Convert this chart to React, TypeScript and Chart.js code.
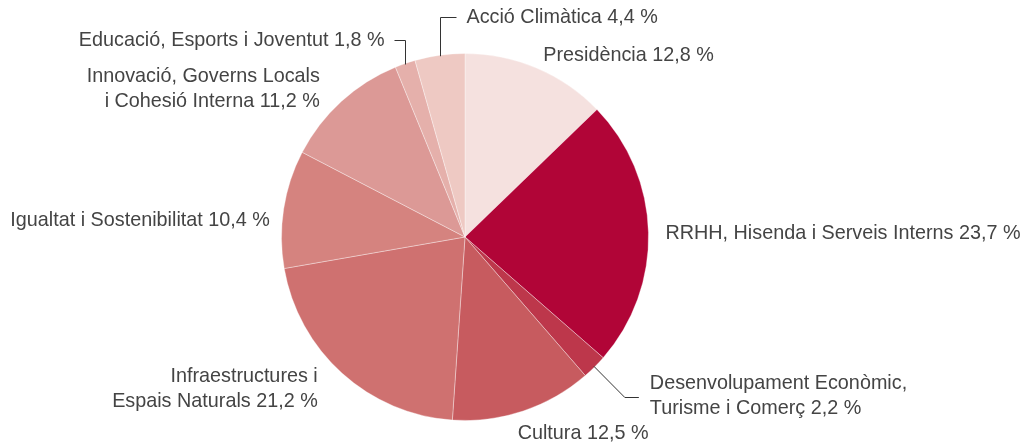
import React, { useEffect, useRef } from "react";
import { Chart, registerables } from "chart.js";

Chart.register(...registerables);

const categories: string[][] = [
  ["Presidència 12,8 %"],
  ["RRHH, Hisenda i Serveis Interns 23,7 %"],
  ["Desenvolupament Econòmic,", "Turisme i Comerç 2,2 %"],
  ["Cultura 12,5 %"],
  ["Infraestructures i", "Espais Naturals 21,2 %"],
  ["Igualtat i Sostenibilitat 10,4 %"],
  ["Innovació, Governs Locals", "i Cohesió Interna 11,2 %"],
  ["Educació, Esports i Joventut 1,8 %"],
  ["Acció Climàtica 4,4 %"],
];

const values: number[] = [12.8, 23.7, 2.2, 12.5, 21.2, 10.4, 11.2, 1.8, 4.4];

const colors: string[] = [
  "#f5e1df",
  "#b10537",
  "#bd374b",
  "#c75b5f",
  "#cf7170",
  "#d5837f",
  "#dc9996",
  "#e5b0ab",
  "#eec9c3",
];

type Layout = {
  mode: "radial" | "leaderUp" | "leaderDiag";
  align: CanvasTextAlign;
  dx: number;
  dy: number;
};

const labelLayout: Layout[] = [
  { mode: "radial", align: "left", dx: 0, dy: 3 },
  { mode: "radial", align: "left", dx: 0, dy: 2 },
  { mode: "leaderDiag", align: "left", dx: 0, dy: 0 },
  { mode: "radial", align: "left", dx: -11, dy: 6 },
  { mode: "radial", align: "right", dx: -13, dy: 3 },
  { mode: "radial", align: "right", dx: 3, dy: 14 },
  { mode: "radial", align: "right", dx: -10, dy: 0 },
  { mode: "leaderUp", align: "right", dx: 0, dy: 0 },
  { mode: "leaderUp", align: "left", dx: 0, dy: 0 },
];

const FONT = '19.8px "Liberation Sans", Arial, sans-serif';
const TEXT_COLOR = "#444444";
const LINE_H = 24.5;

const labelPlugin = {
  id: "pieLabels",
  afterDatasetsDraw(chart: any) {
    const ctx: CanvasRenderingContext2D = chart.ctx;
    const meta = chart.getDatasetMeta(0);
    ctx.save();
    ctx.font = FONT;
    ctx.fillStyle = TEXT_COLOR;
    ctx.strokeStyle = "#333333";
    ctx.lineWidth = 1;
    ctx.textBaseline = "middle";
    meta.data.forEach((arc: any, i: number) => {
      const p = arc.getProps(["x", "y", "startAngle", "endAngle", "outerRadius"], true);
      const mid = (p.startAngle + p.endAngle) / 2;
      const cx = p.x;
      const cy = p.y;
      const R = p.outerRadius;
      const lines = categories[i];
      const lay = labelLayout[i];
      let tx = 0;
      let ty = 0;
      if (lay.mode === "radial") {
        tx = cx + Math.cos(mid) * (R + 17) + lay.dx;
        ty = cy + Math.sin(mid) * (R + 17) + lay.dy;
      } else if (lay.mode === "leaderUp") {
        const ex = Math.round(cx + Math.cos(mid) * (R - 1)) + 0.5;
        const ey = cy + Math.sin(mid) * (R - 1);
        const topY = i === 7 ? cy - R - 14 : cy - R - 37;
        const dir = lay.align === "right" ? -1 : 1;
        const hx = ex + dir * (i === 7 ? 11 : 16);
        ctx.beginPath();
        ctx.moveTo(ex, ey);
        ctx.lineTo(ex, Math.round(topY) + 0.5);
        ctx.lineTo(hx, Math.round(topY) + 0.5);
        ctx.stroke();
        tx = hx + dir * 10;
        ty = topY + 1.5;
      } else {
        const ex = cx + Math.cos(mid) * (R - 1);
        const ey = cy + Math.sin(mid) * (R - 1);
        const kx = ex + 31;
        const ky = ey + 31;
        ctx.beginPath();
        ctx.moveTo(ex, ey);
        ctx.lineTo(kx, Math.round(ky) + 0.5);
        ctx.lineTo(kx + 14, Math.round(ky) + 0.5);
        ctx.stroke();
        tx = kx + 25;
        ty = ky - 1;
      }
      ctx.textAlign = lay.align;
      const startY = ty - ((lines.length - 1) * LINE_H) / 2;
      lines.forEach((ln, j) => {
        ctx.fillText(ln, tx, startY + j * LINE_H);
      });
    });
    ctx.restore();
  },
};

export default function App() {
  const canvasRef = useRef<HTMLCanvasElement | null>(null);

  useEffect(() => {
    if (!canvasRef.current) return;
    const chart = new Chart(canvasRef.current, {
      type: "pie",
      data: {
        labels: categories.map((c) => c.join(" ")),
        datasets: [
          {
            data: values,
            backgroundColor: colors,
            borderColor: "rgba(255,255,255,0.35)",
            borderWidth: 1,
          },
        ],
      },
      options: {
        animation: false,
        responsive: false,
        maintainAspectRatio: false,
        layout: {
          padding: { left: 281, top: 53, right: 375, bottom: 23 },
        },
        plugins: {
          legend: { display: false },
          tooltip: { enabled: false },
        },
      },
      plugins: [labelPlugin],
    });
    return () => chart.destroy();
  }, []);

  return (
    <div
      style={{
        position: "fixed",
        left: 0,
        top: 0,
        width: 1024,
        height: 444,
        background: "#ffffff",
      }}
    >
      <canvas ref={canvasRef} width={1024} height={444} style={{ width: 1024, height: 444 }} />
    </div>
  );
}
